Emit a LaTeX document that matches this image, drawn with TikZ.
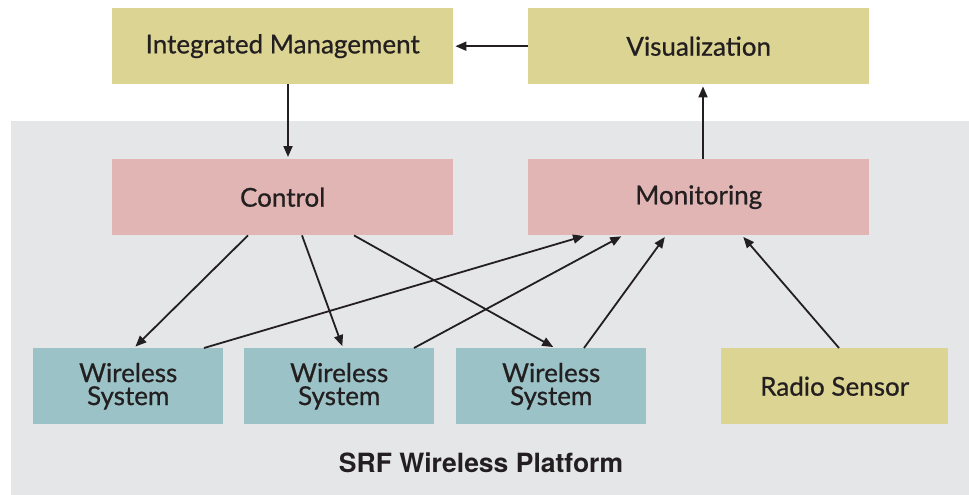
\documentclass[tikz,border=0pt]{standalone}
\usepackage{fontspec}
\setmainfont{Lato}
\newfontfamily\boxfont{Lato}[FakeBold=0.7]
\newfontfamily\titlefont{TeX Gyre Heros}
\usetikzlibrary{arrows.meta,calc}
\definecolor{inkc}{HTML}{231F20}
\definecolor{platc}{HTML}{E5E6E8}
\definecolor{yelc}{HTML}{DCD493}
\definecolor{pinkc}{HTML}{E0B5B4}
\definecolor{tealc}{HTML}{9BC3C7}
\tikzset{
  box/.style={draw=none, anchor=north west, inner sep=0pt, align=center,
    text=inkc, font=\boxfont\fontsize{26}{23}\selectfont},
  topbox/.style={box, fill=yelc, minimum width=341pt, minimum height=76pt},
  midbox/.style={box, fill=pinkc, minimum width=341pt, minimum height=76pt},
  wsbox/.style={box, fill=tealc, minimum width=190pt, minimum height=76pt},
  sensbox/.style={box, fill=yelc, minimum width=227pt, minimum height=76pt},
  link/.style={draw=inkc, line width=1.8pt,
    -{Triangle[length=11pt,width=9pt]}, shorten >=2pt},
}
\begin{document}
\begin{tikzpicture}[x=1pt,y=-1pt]
  \useasboundingbox (0,0) rectangle (969,495);
  % platform background
  \fill[platc] (11,121) rectangle (969,495);
  \node[text=inkc, font=\titlefont\bfseries\fontsize{26.5}{26.5}\selectfont] (title) at (481,463) {SRF Wireless Platform};

  % boxes
  \node[topbox] (im) at (112,8) {Integrated Management};
  \node[topbox] (vis) at (528,8) {Visualization};
  \node[midbox] (ctrl) at (112,159) {Control};
  \node[midbox] (mon) at (528,159) {Monitoring};
  \node[wsbox] (ws1) at (33,348) {Wireless\\System};
  \node[wsbox] (ws2) at (244,348) {Wireless\\System};
  \node[wsbox] (ws3) at (456,348) {Wireless\\System};
  \node[sensbox] (rs) at (721,348) {Radio Sensor};

  % top level links
  \draw[link] (vis.west) -- (im.east);
  \draw[link] ([xshift=176pt]im.south west) -- ([xshift=176pt]ctrl.north west);
  \draw[link] ([xshift=175pt]mon.north west) -- ([xshift=175pt]vis.south west);

  % control to wireless systems
  \draw[link] ([xshift=136pt]ctrl.south west) -- ([xshift=101pt]ws1.north west);
  \draw[link] ([xshift=190pt]ctrl.south west) -- ([xshift=99pt]ws2.north west);
  \draw[link] ([xshift=242pt]ctrl.south west) -- ([xshift=99pt]ws3.north west);

  % wireless systems and sensor to monitoring
  \draw[link] ([xshift=171pt]ws1.north west) -- ([xshift=58pt]mon.south west);
  \draw[link] ([xshift=170pt]ws2.north west) -- ([xshift=95pt]mon.south west);
  \draw[link] ([xshift=128pt]ws3.north west) -- ([xshift=138pt]mon.south west);
  \draw[link] ([xshift=118pt]rs.north west) -- ([xshift=214pt]mon.south west);
\end{tikzpicture}
\end{document}
